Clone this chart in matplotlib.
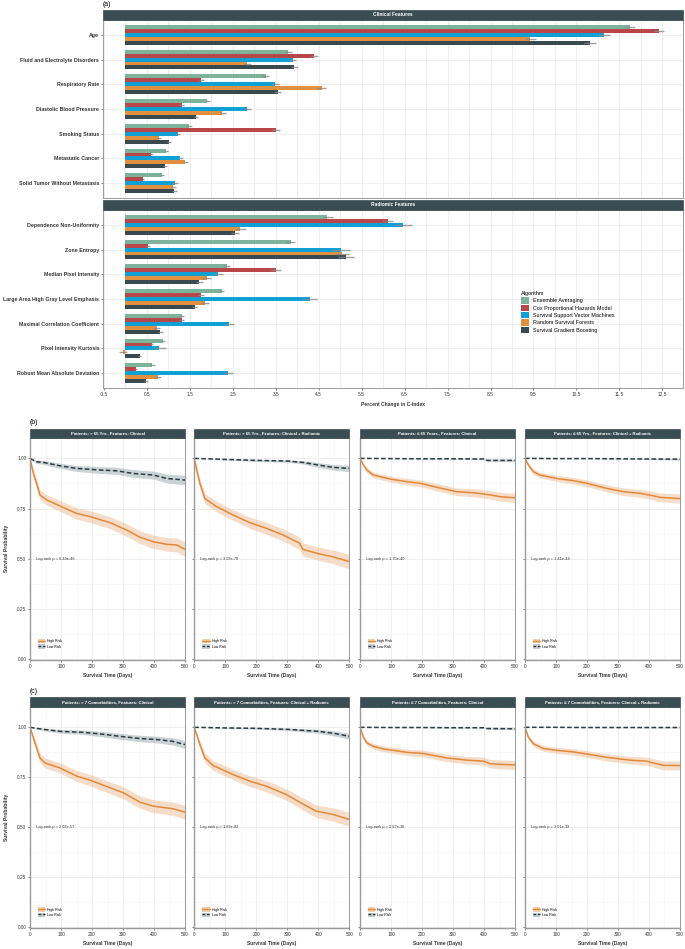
import matplotlib

matplotlib.use("Agg")
import matplotlib.pyplot as plt
import numpy as np
from matplotlib.lines import Line2D
from matplotlib.patches import Patch, Rectangle

plt.rcParams["font.family"] = ["Liberation Sans", "DejaVu Sans"]

W, H = 685, 949  # output size in pixels (dpi 100)

# ---- panel (a): percent change in C-index -------------------------------
ALGORITHMS = [
    "Ensemble Averaging",
    "Cox Proportional Hazards Model",
    "Survival Support Vector Machines",
    "Random Survival Forests",
    "Survival Gradient Boosting",
]
ALG_COLORS = ["#7db39a", "#b9474a", "#0fa0d6", "#e0903f", "#38494f"]

CLINICAL = [
    "Age",
    "Fluid and Electrolyte Disorders",
    "Respiratory Rate",
    "Diastolic Blood Pressure",
    "Smoking Status",
    "Metastatic Cancer",
    "Solid Tumor Without Metastasis",
]
# one row per feature, columns follow ALGORITHMS
CLINICAL_VALUES = [
    [11.74, 12.42, 11.13, 9.43, 10.82],
    [3.79, 4.40, 3.90, 2.84, 3.93],
    [3.27, 1.77, 3.48, 4.57, 3.55],
    [1.91, 1.31, 2.83, 2.26, 1.64],
    [1.48, 3.51, 1.22, 0.78, 1.02],
    [0.95, 0.60, 1.28, 1.40, 0.92],
    [0.86, 0.41, 1.16, 1.12, 1.14],
]
CLINICAL_ERR = [
    [0.12, 0.12, 0.14, 0.12, 0.14],
    [0.08, 0.08, 0.08, 0.08, 0.08],
    [0.08, 0.06, 0.10, 0.10, 0.08],
    [0.06, 0.05, 0.10, 0.08, 0.05],
    [0.06, 0.10, 0.06, 0.06, 0.05],
    [0.05, 0.04, 0.06, 0.06, 0.05],
    [0.05, 0.02, 0.07, 0.06, 0.06],
]

RADIOMIC = [
    "Dependence Non-Uniformity",
    "Zone Entropy",
    "Median Pixel Intensity",
    "Large Area High Gray Level Emphasis",
    "Maximal Correlation Coefficient",
    "Pixel Intensity Kurtosis",
    "Robust Mean Absolute Deviation",
]
RADIOMIC_VALUES = [
    [4.70, 6.11, 6.47, 2.68, 2.55],
    [3.85, 0.53, 5.02, 5.04, 5.14],
    [2.36, 3.51, 2.16, 1.89, 1.72],
    [2.24, 1.76, 4.29, 1.85, 1.61],
    [1.31, 1.31, 2.42, 0.73, 0.81],
    [0.87, 0.61, 0.79, -0.05, 0.33],
    [0.63, 0.24, 2.39, 0.75, 0.48],
]
RADIOMIC_ERR = [
    [0.13, 0.13, 0.20, 0.12, 0.10],
    [0.10, 0.05, 0.20, 0.17, 0.18],
    [0.08, 0.12, 0.12, 0.10, 0.08],
    [0.06, 0.06, 0.17, 0.10, 0.06],
    [0.06, 0.06, 0.12, 0.08, 0.06],
    [0.05, 0.04, 0.15, 0.10, 0.04],
    [0.05, 0.02, 0.12, 0.08, 0.05],
]
X_TICKS_A = [-0.5, 0.5, 1.5, 2.5, 3.5, 4.5, 5.5, 6.5, 7.5, 8.5, 9.5, 10.5, 11.5, 12.5]

# ---- panels (b) and (c): Kaplan-Meier curves -----------------------------
STRIPS_B = [
    "Patients: > 65 Yrs., Features: Clinical",
    "Patients: > 65 Yrs., Features: Clinical + Radiomic",
    "Patients: \u2264 65 Years., Features: Clinical",
    "Patients: \u2264 65 Yrs., Features: Clinical + Radiomic",
]
PVALUES_B = ["6.49e-46", "3.03e-78", "1.70e-40", "1.41e-44"]
STRIPS_C = [
    "Patients: > 7 Comorbidities, Features: Clinical",
    "Patients: > 7 Comorbidities, Features: Clinical + Radiomic",
    "Patients: \u2264 7 Comorbidities, Features: Clinical",
    "Patients: \u2264 7 Comorbidities, Features: Clinical + Radiomic",
]
PVALUES_C = ["2.02e-57", "1.89e-82", "2.67e-36", "3.01e-39"]

# high-risk curves (days, survival, half-width of 95% band)
B1_HIGH_T = [0, 10, 21, 32, 54, 97, 150, 194, 258, 312, 355, 398, 441, 473, 500]
B1_HIGH_S = [1.0, 0.93, 0.876, 0.818, 0.793, 0.763, 0.726, 0.71, 0.68, 0.643, 0.607, 0.585, 0.572, 0.569, 0.547]
B1_HIGH_CI = [0.0, 0.02, 0.025, 0.025, 0.026, 0.027, 0.028, 0.029, 0.03, 0.031, 0.032, 0.033, 0.034, 0.035, 0.037]
B2_HIGH_T = [0, 8, 18, 34, 72, 125, 179, 232, 286, 340, 350, 404, 447, 500]
B2_HIGH_S = [1.0, 0.94, 0.876, 0.80, 0.76, 0.718, 0.68, 0.652, 0.619, 0.577, 0.547, 0.524, 0.51, 0.486]
B2_HIGH_CI = [0.0, 0.02, 0.024, 0.025, 0.026, 0.027, 0.028, 0.029, 0.03, 0.031, 0.032, 0.033, 0.034, 0.036]
B3_HIGH_T = [0, 11, 22, 43, 97, 151, 194, 248, 312, 366, 420, 453, 500]
B3_HIGH_S = [1.0, 0.967, 0.942, 0.917, 0.897, 0.884, 0.876, 0.856, 0.834, 0.829, 0.818, 0.809, 0.804]
B3_HIGH_CI = [0.0, 0.01, 0.013, 0.014, 0.015, 0.016, 0.017, 0.018, 0.019, 0.02, 0.021, 0.022, 0.023]
B4_HIGH_T = [0, 11, 27, 48, 102, 156, 199, 263, 317, 371, 414, 435, 500]
B4_HIGH_S = [1.0, 0.967, 0.934, 0.917, 0.90, 0.889, 0.876, 0.851, 0.834, 0.826, 0.814, 0.806, 0.80]
B4_HIGH_CI = [0.0, 0.01, 0.013, 0.014, 0.015, 0.016, 0.017, 0.018, 0.019, 0.02, 0.021, 0.022, 0.023]

B1_LOW_T = [0, 21, 43, 97, 150, 226, 280, 333, 398, 441, 500]
B1_LOW_S = [1.0, 0.983, 0.98, 0.963, 0.95, 0.942, 0.938, 0.925, 0.917, 0.90, 0.892]
B1_LOW_CI = [0.0, 0.009, 0.01, 0.013, 0.015, 0.017, 0.018, 0.019, 0.02, 0.022, 0.024]
B2_LOW_T = [0, 100, 200, 300, 350, 400, 450, 500]
B2_LOW_S = [1.0, 0.995, 0.99, 0.987, 0.98, 0.967, 0.955, 0.95]
B2_LOW_CI = [0.0, 0.003, 0.005, 0.006, 0.008, 0.012, 0.014, 0.016]
B3_LOW_T = [0, 100, 200, 300, 400, 410, 500]
B3_LOW_S = [1.0, 0.999, 0.998, 0.998, 0.997, 0.99, 0.99]
B3_LOW_CI = [0.0, 0.001, 0.002, 0.002, 0.003, 0.006, 0.006]
B4_LOW_T = [0, 100, 200, 300, 400, 500]
B4_LOW_S = [1.0, 0.999, 0.999, 0.998, 0.997, 0.996]
B4_LOW_CI = [0.0, 0.001, 0.001, 0.002, 0.003, 0.004]

C1_HIGH_T = [0, 16, 32, 48, 97, 151, 194, 258, 301, 355, 398, 462, 500]
C1_HIGH_S = [1.0, 0.922, 0.847, 0.822, 0.797, 0.756, 0.736, 0.698, 0.673, 0.626, 0.606, 0.593, 0.576]
C1_HIGH_CI = [0.0, 0.02, 0.024, 0.025, 0.026, 0.027, 0.028, 0.029, 0.03, 0.031, 0.032, 0.033, 0.035]
C2_HIGH_T = [0, 18, 34, 61, 125, 179, 232, 297, 340, 393, 447, 500]
C2_HIGH_S = [1.0, 0.914, 0.847, 0.809, 0.764, 0.731, 0.706, 0.664, 0.626, 0.581, 0.565, 0.54]
C2_HIGH_CI = [0.0, 0.02, 0.024, 0.025, 0.026, 0.027, 0.028, 0.029, 0.03, 0.031, 0.033, 0.035]
C3_HIGH_T = [0, 11, 22, 43, 75, 108, 151, 205, 280, 345, 399, 420, 453, 500]
C3_HIGH_S = [1.0, 0.95, 0.922, 0.905, 0.892, 0.885, 0.875, 0.869, 0.847, 0.836, 0.831, 0.818, 0.815, 0.812]
C3_HIGH_CI = [0.0, 0.01, 0.013, 0.014, 0.015, 0.015, 0.016, 0.017, 0.018, 0.019, 0.02, 0.021, 0.022, 0.023]
C4_HIGH_T = [0, 11, 27, 59, 102, 156, 210, 263, 339, 392, 414, 446, 500]
C4_HIGH_S = [1.0, 0.95, 0.918, 0.894, 0.885, 0.877, 0.864, 0.85, 0.836, 0.831, 0.822, 0.81, 0.809]
C4_HIGH_CI = [0.0, 0.01, 0.013, 0.014, 0.015, 0.016, 0.017, 0.018, 0.019, 0.02, 0.021, 0.022, 0.023]

C1_LOW_T = [0, 43, 97, 172, 226, 290, 355, 409, 460, 500]
C1_LOW_S = [1.0, 0.99, 0.98, 0.975, 0.967, 0.955, 0.944, 0.939, 0.93, 0.914]
C1_LOW_CI = [0.0, 0.006, 0.009, 0.011, 0.013, 0.015, 0.016, 0.017, 0.018, 0.02]
C2_LOW_T = [0, 100, 200, 300, 350, 400, 450, 500]
C2_LOW_S = [1.0, 0.997, 0.995, 0.99, 0.985, 0.98, 0.97, 0.955]
C2_LOW_CI = [0.0, 0.002, 0.004, 0.006, 0.008, 0.01, 0.012, 0.015]
C3_LOW_T = [0, 100, 200, 300, 400, 410, 500]
C3_LOW_S = [1.0, 0.999, 0.999, 0.998, 0.998, 0.994, 0.993]
C3_LOW_CI = [0.0, 0.001, 0.001, 0.002, 0.002, 0.004, 0.005]
C4_LOW_T = [0, 100, 200, 300, 400, 500]
C4_LOW_S = [1.0, 1.0, 0.999, 0.999, 0.999, 0.999]
C4_LOW_CI = [0.0, 0.001, 0.001, 0.001, 0.002, 0.002]

STRIP_COLOR = "#3a4d53"
HIGH_COLOR = "#e3893a"
LOW_COLOR = "#2e3c41"
GRID = "#ebebeb"
TEXT = "#333333"


def px_axes(fig, left, top, right, bottom):
    """Add axes from pixel edges measured on the reference image."""
    return fig.add_axes([left / W, 1 - bottom / H, (right - left) / W, (bottom - top) / H])


def add_strip(fig, ax, label, height_px, size):
    """ggplot-style facet strip sitting on top of an axes."""
    bb = ax.get_position()
    h = height_px / H
    fig.patches.append(Rectangle((bb.x0, bb.y1), bb.width, h, transform=fig.transFigure,
                                 facecolor=STRIP_COLOR, edgecolor=STRIP_COLOR, lw=0.5))
    fig.text(bb.x0 + bb.width / 2, bb.y1 + h / 2, label, ha="center", va="center",
             color="white", fontsize=size, fontweight="bold")


def style_frame(ax):
    for s in ax.spines.values():
        s.set_color("#9a9a9a")
        s.set_linewidth(0.7)
    ax.tick_params(length=1.5, width=0.5, color="#555555", pad=1.2, labelcolor=TEXT)


def bar_panel(fig, top, bottom, features, values, errors, strip):
    ax = px_axes(fig, 103, top, 683, bottom)
    vals = np.array(values)
    errs = np.array(errors)
    h = 0.16
    for j, (name, color) in enumerate(zip(ALGORITHMS, ALG_COLORS)):
        y = np.arange(len(features)) + (j - 2) * h
        ax.barh(y, vals[:, j], height=h, color=color, label=name, zorder=2)
        ax.errorbar(vals[:, j], y, xerr=errs[:, j], fmt="none", ecolor="#8a8a8a",
                    elinewidth=1.0, alpha=0.8, capsize=0, zorder=3)
    ax.set_ylim(len(features) - 0.4, -0.6)
    ax.set_xlim(-0.52, 12.98)
    ax.set_yticks(range(len(features)))
    ax.set_yticklabels(features, fontsize=3.8, fontweight="bold")
    ax.set_xticks(X_TICKS_A)
    ax.set_xticks(np.arange(0, 13, 1.0), minor=True)
    ax.grid(True, which="both", axis="x", color=GRID, lw=0.6, zorder=0)
    ax.grid(True, which="major", axis="y", color=GRID, lw=0.6, zorder=0)
    ax.tick_params(axis="x", which="minor", length=0)
    ax.set_axisbelow(True)
    style_frame(ax)
    add_strip(fig, ax, strip, 10, 3.5)
    return ax


def km_panel(fig, left, top, bottom, strip, pvalue, high, low, first, strip_px):
    ax = px_axes(fig, left, top, left + 155, bottom)
    for (t, s, ci), color, ls, fill, falpha in (
        (low, LOW_COLOR, (0, (3, 1.6)), "#9fb0b3", 0.55),
        (high, HIGH_COLOR, "-", "#eab488", 0.45),
    ):
        t = np.array(t)
        s = np.array(s)
        ci = np.array(ci)
        ax.fill_between(t, np.minimum(s + ci, 1.0), s - ci, color=fill, alpha=falpha, lw=0)
        ax.plot(t, s, color=color, lw=1.1, ls=ls)
    ax.set_xlim(0, 500)
    ax.set_ylim(-0.004, 1.103)
    ax.set_xticks(range(0, 501, 100))
    ax.set_xticks(range(50, 500, 100), minor=True)
    ax.set_yticks([0, 0.25, 0.5, 0.75, 1.0])
    ax.set_yticks([0.125, 0.375, 0.625, 0.875], minor=True)
    ax.grid(True, which="major", color=GRID, lw=0.6)
    ax.grid(True, which="minor", color="#f3f3f3", lw=0.4)
    ax.tick_params(which="minor", length=0)
    ax.set_axisbelow(True)
    style_frame(ax)
    ax.spines["left"].set_linewidth(1.0)
    ax.spines["bottom"].set_linewidth(1.0)
    ax.tick_params(labelsize=3.4)
    if first:
        ax.set_yticklabels(["0.00", "0.25", "0.50", "0.75", "1.00"])
    else:
        ax.set_yticklabels([])
    ax.text(20, 0.5, f"Log-rank p = {pvalue}", fontsize=2.8, color=TEXT, va="center")
    handles = [
        (Patch(facecolor="#f2cfb0", edgecolor="none"), Line2D([], [], color=HIGH_COLOR, lw=1.0)),
        (Patch(facecolor="#c4ced0", edgecolor="none"),
         Line2D([], [], color=LOW_COLOR, lw=1.0, ls=(0, (2, 1.2)))),
    ]
    ax.legend(handles, ["High Risk", "Low Risk"], loc="lower left", bbox_to_anchor=(0.04, 0.045),
              fontsize=2.5, frameon=False, handlelength=2.2, handleheight=1.5,
              labelspacing=0.3, handletextpad=0.6, borderaxespad=0)
    ax.set_xlabel("Survival Time (Days)", fontsize=3.6, fontweight="bold", color=TEXT, labelpad=3)
    add_strip(fig, ax, strip, strip_px, 3.1)
    return ax


fig = plt.figure(figsize=(W / 100, H / 100), dpi=100)

# (a)
bar_panel(fig, 20, 198, CLINICAL, CLINICAL_VALUES, CLINICAL_ERR, "Clinical Features")
ax_rad = bar_panel(fig, 210, 388, RADIOMIC, RADIOMIC_VALUES, RADIOMIC_ERR, "Radiomic Features")
ax_rad.set_xticklabels([f"{v:g}" for v in X_TICKS_A], fontsize=3.4)
ax_rad.set_xlabel("Percent Change in C-Index", fontsize=3.6, fontweight="bold", color=TEXT, labelpad=4)
fig.axes[0].set_xticklabels([])
fig.axes[0].tick_params(axis="x", length=0)
leg = fig.legend(*ax_rad.get_legend_handles_labels(), title="Algorithm", loc="upper left",
                 bbox_to_anchor=(519 / W, 1 - 289 / H), fontsize=3.9, title_fontsize=4.0,
                 frameon=False, handlelength=1.5, handleheight=1.4, labelspacing=0.2,
                 handletextpad=0.6, borderaxespad=0)
leg._legend_box.align = "left"
fig.text(103 / W, 1 - 5 / H, "(a)", fontsize=5, va="center", ha="left")

# (b) and (c)
LEFTS = [30, 194.3, 360, 525]
b_high = [(B1_HIGH_T, B1_HIGH_S, B1_HIGH_CI), (B2_HIGH_T, B2_HIGH_S, B2_HIGH_CI),
          (B3_HIGH_T, B3_HIGH_S, B3_HIGH_CI), (B4_HIGH_T, B4_HIGH_S, B4_HIGH_CI)]
b_low = [(B1_LOW_T, B1_LOW_S, B1_LOW_CI), (B2_LOW_T, B2_LOW_S, B2_LOW_CI),
         (B3_LOW_T, B3_LOW_S, B3_LOW_CI), (B4_LOW_T, B4_LOW_S, B4_LOW_CI)]
c_high = [(C1_HIGH_T, C1_HIGH_S, C1_HIGH_CI), (C2_HIGH_T, C2_HIGH_S, C2_HIGH_CI),
          (C3_HIGH_T, C3_HIGH_S, C3_HIGH_CI), (C4_HIGH_T, C4_HIGH_S, C4_HIGH_CI)]
c_low = [(C1_LOW_T, C1_LOW_S, C1_LOW_CI), (C2_LOW_T, C2_LOW_S, C2_LOW_CI),
         (C3_LOW_T, C3_LOW_S, C3_LOW_CI), (C4_LOW_T, C4_LOW_S, C4_LOW_CI)]

for i, left in enumerate(LEFTS):
    ax = km_panel(fig, left, 437.7, 660, STRIPS_B[i], PVALUES_B[i], b_high[i], b_low[i], i == 0, 8.7)
    if i == 0:
        ax.set_ylabel("Survival Probability", fontsize=3.6, fontweight="bold", color=TEXT, labelpad=6)
for i, left in enumerate(LEFTS):
    ax = km_panel(fig, left, 706.7, 928.3, STRIPS_C[i], PVALUES_C[i], c_high[i], c_low[i], i == 0, 9.4)
    if i == 0:
        ax.set_ylabel("Survival Probability", fontsize=3.6, fontweight="bold", color=TEXT, labelpad=6)

fig.text(30 / W, 1 - 423 / H, "(b)", fontsize=5, va="center", ha="left")
fig.text(30 / W, 1 - 691.5 / H, "(c)", fontsize=5, va="center", ha="left")

fig.savefig("out.png", dpi=100)
